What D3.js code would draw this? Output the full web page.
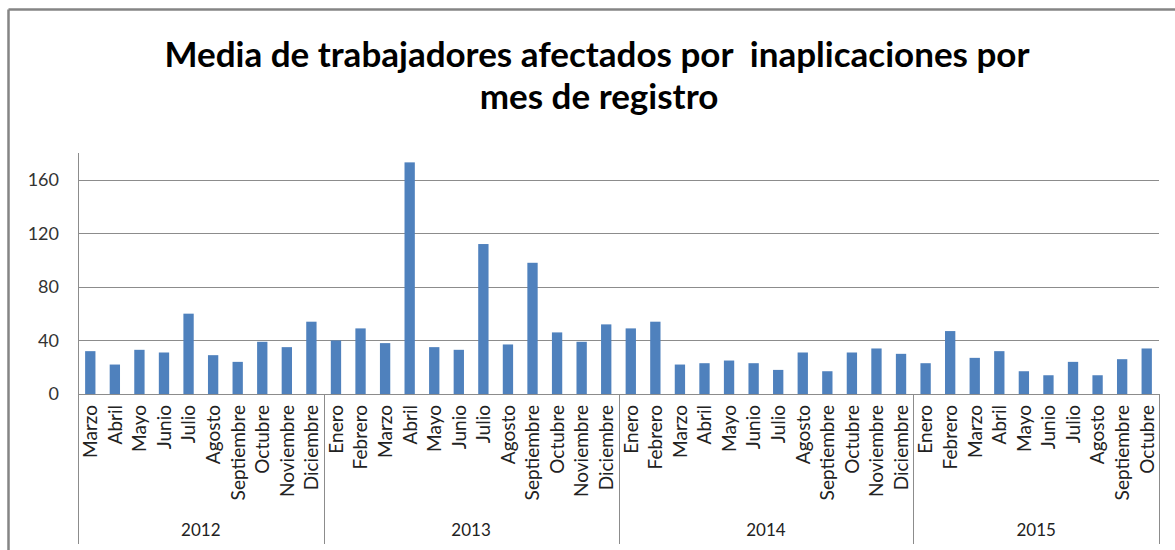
<!DOCTYPE html>
<html>
  <head>
    <meta charset="utf-8">
    <title>Media de trabajadores afectados por inaplicaciones</title>
    <script src="https://d3js.org/d3.v7.min.js"></script>
    <style>
      body { margin: 0; background: #fff; }
      .bar { fill: #4f81bd; }
      .grid line { stroke: #8c8c8c; stroke-width: 1; }
      .axis-y text { font-size: 18px; font-family: Lato, sans-serif; fill: #333; }
      .month { font-size: 19px; font-family: Lato, sans-serif; fill: #222; }
      .year { font-size: 17px; font-family: Lato, sans-serif; fill: #222; }
      .title { font-size: 35px; font-family: Lato, sans-serif; font-weight: bold; fill: #000; }
    </style>
  </head>
  <body>
    <svg width="1175" height="550"></svg>
    <script>
      var years = ["2012", "2013", "2014", "2015"];
      var months2012 = ["Marzo", "Abril", "Mayo", "Junio", "Julio", "Agosto", "Septiembre", "Octubre", "Noviembre", "Diciembre"];
      var monthsFull = ["Enero", "Febrero", "Marzo", "Abril", "Mayo", "Junio", "Julio", "Agosto", "Septiembre", "Octubre", "Noviembre", "Diciembre"];
      var months2015 = ["Enero", "Febrero", "Marzo", "Abril", "Mayo", "Junio", "Julio", "Agosto", "Septiembre", "Octubre"];
      var values2012 = [32, 22, 33, 31, 60, 29, 24, 39, 35, 54];
      var values2013 = [40, 49, 38, 173, 35, 33, 112, 37, 98, 46, 39, 52];
      var values2014 = [49, 54, 22, 23, 25, 23, 18, 31, 17, 31, 34, 30];
      var values2015 = [23, 47, 27, 32, 17, 14, 24, 14, 26, 34];
      var yTicks = [0, 40, 80, 120, 160];

      var groups = [
        {year: years[0], months: months2012, values: values2012},
        {year: years[1], months: monthsFull, values: values2013},
        {year: years[2], months: monthsFull, values: values2014},
        {year: years[3], months: months2015, values: values2015}
      ];

      var data = [];
      groups.forEach(function(g) {
        g.months.forEach(function(m, i) {
          data.push({key: g.year + "-" + m, month: m, year: g.year, value: g.values[i]});
        });
      });

      var plotLeft = 78, plotRight = 1159, plotTop = 153, plotBottom = 394, axisEnd = 544;

      var svg = d3.select("svg");

      // marco del gráfico
      svg.append("line").attr("x1", 8.5).attr("x2", 1175).attr("y1", 9.5).attr("y2", 9.5)
          .attr("stroke", "#858585").attr("stroke-width", 2.5);
      svg.append("line").attr("x1", 8.5).attr("x2", 8.5).attr("y1", 9.5).attr("y2", 550)
          .attr("stroke", "#858585").attr("stroke-width", 2.5);

      svg.append("text").attr("class", "title")
          .attr("x", 597).attr("y", 67).attr("text-anchor", "middle")
          .style("white-space", "pre")
          .text("Media de trabajadores afectados por  inaplicaciones por");
      svg.append("text").attr("class", "title")
          .attr("x", 599).attr("y", 109).attr("text-anchor", "middle")
          .text("mes de registro");

      var x = d3.scaleBand()
          .domain(data.map(function(d) { return d.key; }))
          .range([plotLeft, plotRight])
          .paddingInner(0.58)
          .paddingOuter(0.29);

      var y = d3.scaleLinear()
          .domain([0, 180])
          .range([plotBottom, plotTop]);

      svg.append("g")
          .attr("class", "grid")
          .selectAll("line")
          .data(yTicks.slice(1))
          .enter().append("line")
          .attr("x1", plotLeft).attr("x2", plotRight)
          .attr("y1", function(d) { return Math.round(y(d)) + 0.5; })
          .attr("y2", function(d) { return Math.round(y(d)) + 0.5; });

      var yAxis = svg.append("g")
          .attr("class", "axis-y")
          .attr("transform", "translate(" + (plotLeft - 13) + ",0)")
          .call(d3.axisLeft(y).tickValues(yTicks).tickSize(0).tickPadding(6));
      yAxis.select(".domain").remove();

      svg.selectAll(".bar")
          .data(data)
          .enter().append("rect")
          .attr("class", "bar")
          .attr("x", function(d) { return x(d.key); })
          .attr("width", x.bandwidth())
          .attr("y", function(d) { return y(d.value); })
          .attr("height", function(d) { return y(0) - y(d.value); });

      // ejes
      svg.append("line").attr("x1", plotLeft + 0.5).attr("x2", plotLeft + 0.5).attr("y1", plotTop).attr("y2", axisEnd)
          .attr("stroke", "#8c8c8c");
      svg.append("line").attr("x1", plotLeft).attr("x2", plotRight)
          .attr("y1", Math.round(y(0)) + 0.5).attr("y2", Math.round(y(0)) + 0.5)
          .attr("stroke", "#8c8c8c");

      var step = x.step();
      svg.selectAll(".month")
          .data(data)
          .enter().append("text")
          .attr("class", "month")
          .attr("text-anchor", "end")
          .attr("dy", "0.36em")
          .attr("transform", function(d) {
            return "translate(" + (x(d.key) + x.bandwidth() / 2) + "," + (plotBottom + 11) + ") rotate(-90)";
          })
          .text(function(d) { return d.month; });

      // separadores y años
      var start = 0;
      groups.forEach(function(g) {
        var first = data[start].key, last = data[start + g.months.length - 1].key;
        var x0 = x(first) - (step - x.bandwidth()) / 2;
        var x1 = x(last) + x.bandwidth() + (step - x.bandwidth()) / 2;
        svg.append("line").attr("x1", Math.round(x1) + 0.5).attr("x2", Math.round(x1) + 0.5)
            .attr("y1", plotBottom).attr("y2", axisEnd).attr("stroke", "#8c8c8c");
        svg.append("text").attr("class", "year")
            .attr("x", (x0 + x1) / 2).attr("y", 536).attr("text-anchor", "middle")
            .text(g.year);
        start += g.months.length;
      });
    </script>
  </body>
</html>
